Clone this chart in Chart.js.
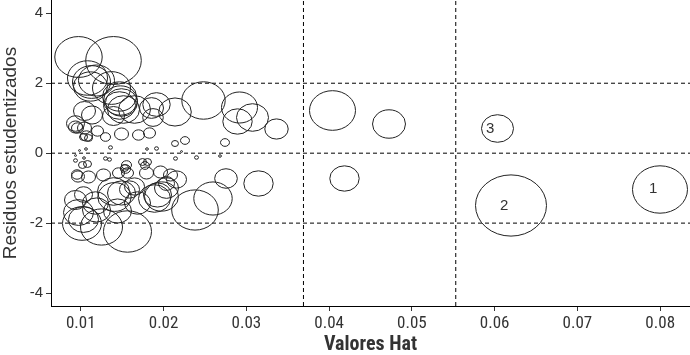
<!DOCTYPE html>
<html>
<head>
<meta charset="utf-8">
<script src="https://cdn.jsdelivr.net/npm/chart.js@4.4.1/dist/chart.umd.min.js"></script>
<style>
  body { margin: 0; background: #fff; }
</style>
</head>
<body>
<canvas id="influencia" width="690" height="355"></canvas>
<script>
// valores hat, residuos estudentizados y distancia de Cook de cada observacion
var hat = [0.0800, 0.0620, 0.0603, 0.0404, 0.0472, 0.0419,
  0.0097, 0.0140, 0.0108, 0.0113, 0.0119, 0.0112, 0.0137, 0.0147, 0.0148, 0.0149,
  0.0147, 0.0151, 0.0165, 0.0187, 0.0185, 0.0192, 0.0214, 0.0248, 0.0292, 0.0307,
  0.0289, 0.0337, 0.0113, 0.0139, 0.0105, 0.0093, 0.0094, 0.0096, 0.0105, 0.0107,
  0.0103, 0.0109, 0.0120, 0.0130, 0.0149, 0.0170, 0.0183, 0.0136, 0.0180, 0.0191,
  0.0214, 0.0226, 0.0274, 0.0098, 0.0106, 0.0222, 0.0093, 0.0094, 0.0104, 0.0102,
  0.0108, 0.0130, 0.0135, 0.0155, 0.0153, 0.0175, 0.0181, 0.0178, 0.0214, 0.0240,
  0.0268, 0.0097, 0.0096, 0.0109, 0.0127, 0.0146, 0.0154, 0.0157, 0.0179, 0.0196,
  0.0208, 0.0216, 0.0203, 0.0276, 0.0315, 0.0093, 0.0103, 0.0118, 0.0140, 0.0149,
  0.0159, 0.0141, 0.0165, 0.0189, 0.0193, 0.0197, 0.0204, 0.0260, 0.0238, 0.0097,
  0.0101, 0.0119, 0.0125, 0.0157, 0.0103, 0.0144, 0.0169];
var residuos = [-1.03, -1.51, 0.70, 1.23, 0.83, -0.71,
  2.76, 2.64, 2.14, 2.04, 2.09, 1.92, 1.86, 1.61, 1.52, 1.44,
  1.35, 1.24, 1.24, 1.01, 1.29, 1.38, 1.19, 1.50, 1.30, 1.01,
  0.92, 0.69, 1.09, 1.05, 1.20, 0.86, 0.76, 0.71, 0.71, 0.50,
  0.45, 0.43, 0.62, 0.47, 0.55, 0.52, 0.59, 0.17, 0.11, 0.14,
  0.29, 0.36, 0.30, 0.09, 0.12, 0.05, -0.08, -0.21, -0.14, -0.35,
  -0.32, -0.14, -0.19, -0.35, -0.43, -0.24, -0.24, -0.36, -0.14, -0.12,
  -0.08, -0.67, -0.62, -0.69, -0.62, -0.57, -0.46, -0.57, -0.57, -0.55,
  -0.62, -0.76, -0.86, -0.71, -0.86, -1.33, -1.19, -1.43, -1.10, -1.14,
  -1.05, -1.24, -0.95, -1.29, -1.19, -1.24, -0.99, -1.29, -1.62, -1.71,
  -2.00, -1.62, -2.10, -2.24, -1.90, -1.64, -1.43];
var cook = [0.0756, 0.1260, 0.0256, 0.0529, 0.0272, 0.0216,
  0.0562, 0.0773, 0.0400, 0.0361, 0.0324, 0.0289, 0.0361, 0.0289, 0.0289, 0.0256,
  0.0256, 0.0256, 0.0256, 0.0106, 0.0144, 0.0188, 0.0266, 0.0471, 0.0324, 0.0256,
  0.0216, 0.0137, 0.0110, 0.0121, 0.0121, 0.0081, 0.0049, 0.0036, 0.0049, 0.0036,
  0.0016, 0.0016, 0.0036, 0.0025, 0.0049, 0.0036, 0.0036, 0.0004, 0.0002, 0.0004,
  0.0012, 0.0020, 0.0020, 0.0001, 0.0002, 0.0001, 0.0001, 0.0004, 0.0002, 0.0016,
  0.0016, 0.0004, 0.0004, 0.0025, 0.0016, 0.0016, 0.0016, 0.0020, 0.0004, 0.0004,
  0.0002, 0.0042, 0.0030, 0.0049, 0.0049, 0.0036, 0.0025, 0.0036, 0.0049, 0.0049,
  0.0049, 0.0100, 0.0064, 0.0128, 0.0216, 0.0121, 0.0081, 0.0169, 0.0256, 0.0196,
  0.0100, 0.0279, 0.0100, 0.0256, 0.0196, 0.0289, 0.0144, 0.0369, 0.0543, 0.0225,
  0.0380, 0.0196, 0.0441, 0.0576, 0.0225, 0.0196, 0.0169];
var etiquetas = ['1', '2', '3'];

var xTicks = [0.01, 0.02, 0.03, 0.04, 0.05, 0.06, 0.07, 0.08];
var yTicks = [-4, -2, 0, 2, 4];
var cortesHat = [0.0369, 0.0553];   // 2*p/n y 3*p/n
var cortesRes = [-2, 0, 2];

var xMin = 0.0064, xMax = 0.0836;
var yMin = -4.37, yMax = 4.38;

// elipses dibujadas como imagen (R las deja algo mas anchas que altas)
var cacheElipse = {};
function elipse(r) {
  var k = r.toFixed(1);
  if (cacheElipse[k]) return cacheElipse[k];
  var ry = r / 1.16;
  var c = document.createElement('canvas');
  c.width = Math.ceil(2 * r + 3);
  c.height = Math.ceil(2 * ry + 3);
  var g = c.getContext('2d');
  g.strokeStyle = '#222';
  g.lineWidth = 1;
  g.beginPath();
  g.ellipse(c.width / 2, c.height / 2, r, ry, 0, 0, 2 * Math.PI);
  g.stroke();
  cacheElipse[k] = c;
  return c;
}

var puntos = [];
for (var i = 0; i < hat.length; i++) {
  puntos.push({ x: hat[i], y: residuos[i], r: 100 * Math.sqrt(cook[i]) });
}

var lineas = [];
cortesRes.forEach(function(v) {
  lineas.push({ type: 'line', data: [{x: xMin, y: v}, {x: xMax, y: v}] });
});
cortesHat.forEach(function(v) {
  lineas.push({ type: 'line', data: [{x: v, y: yMin}, {x: v, y: yMax}] });
});
lineas.forEach(function(d) {
  d.borderColor = '#000';
  d.borderWidth = 1;
  d.borderDash = [4, 3];
  d.pointRadius = 0;
  d.fill = false;
});

// sin suavizado al pegar las elipses, para que no salgan borrosas
var nitidoPlugin = {
  id: 'nitido',
  beforeDatasetsDraw: function(chart) { chart.ctx.imageSmoothingEnabled = false; },
  afterDatasetsDraw: function(chart) { chart.ctx.imageSmoothingEnabled = true; }
};

var etiquetasPlugin = {
  id: 'etiquetas',
  afterDatasetsDraw: function(chart) {
    var ctx = chart.ctx;
    var meta = chart.getDatasetMeta(0);
    ctx.save();
    ctx.font = '15px "Liberation Sans", Arial, sans-serif';
    ctx.fillStyle = '#333';
    ctx.textAlign = 'center';
    ctx.textBaseline = 'middle';
    meta.data.forEach(function(p, i) {
      if (etiquetas[i]) ctx.fillText(etiquetas[i], p.x - 7, p.y);
    });
    ctx.restore();
  }
};

var ctx = document.getElementById('influencia');
var myChart = new Chart(ctx, {
  type: 'bubble',
  plugins: [nitidoPlugin, etiquetasPlugin],
  data: {
    datasets: [{
      data: puntos,
      pointStyle: function(c) { return elipse(c.raw.r); },
      backgroundColor: 'rgba(0,0,0,0)',
      borderColor: '#222',
      borderWidth: 1
    }].concat(lineas)
  },
  options: {
    responsive: false,
    animation: false,
    devicePixelRatio: 1,
    layout: { padding: 0, autoPadding: false },
    plugins: {
      legend: { display: false },
      tooltip: { enabled: false }
    },
    scales: {
      x: {
        type: 'linear',
        min: xMin,
        max: xMax,
        afterBuildTicks: function(s) { s.ticks = xTicks.map(function(v) { return {value: v}; }); },
        afterFit: function(s) { s.height = 49; s.paddingLeft = 0; s.paddingRight = 0; },
        ticks: {
          padding: 3,
          color: '#333',
          font: { family: '"Liberation Sans Narrow", "Roboto Condensed", "Liberation Sans", sans-serif', size: 17 },
          callback: function(v) { return v.toFixed(2); }
        },
        grid: { drawOnChartArea: false, tickLength: 5, tickColor: '#333' },
        border: { color: '#000', width: 1 },
        title: {
          display: true,
          text: 'Valores Hat',
          color: '#333',
          padding: { top: 0, bottom: 0 },
          font: { family: '"Liberation Sans Narrow", "Roboto Condensed", "Liberation Sans", sans-serif', size: 20, weight: 'bold', lineHeight: 1 }
        }
      },
      y: {
        type: 'linear',
        min: yMin,
        max: yMax,
        afterBuildTicks: function(s) { s.ticks = yTicks.map(function(v) { return {value: v}; }); },
        afterFit: function(s) { s.width = 51; s.paddingTop = 0; s.paddingBottom = 0; },
        ticks: {
          padding: 3,
          color: '#333',
          font: { family: '"Liberation Sans", Arial, sans-serif', size: 15 }
        },
        grid: { drawOnChartArea: false, tickLength: 5, tickColor: '#333' },
        border: { color: '#000', width: 1 },
        title: {
          display: true,
          text: 'Residuos estudentizados',
          color: '#333',
          padding: { top: 0, bottom: 0 },
          font: { family: '"Liberation Sans", Arial, sans-serif', size: 19, lineHeight: 1.1 }
        }
      }
    }
  }
});
</script>
</body>
</html>
